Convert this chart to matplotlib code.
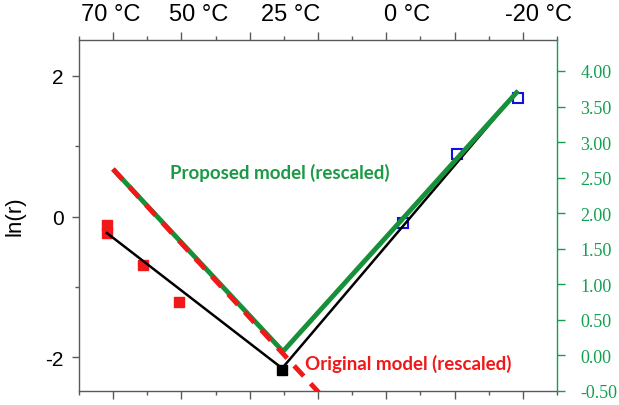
import matplotlib
matplotlib.use("Agg")
import matplotlib.pyplot as plt
from matplotlib.ticker import FixedLocator, FormatStrFormatter

# x positions are in units of the top/bottom tick spacing (0..14)
top_temps = [70, 50, 25, 0, -20]
top_temp_pos = [0.92, 3.49, 6.21, 9.61, 13.45]

# measured ln(r), high temperature side (red) and low temperature side (blue)
red_x = [0.82, 0.82, 1.875, 2.93]
red_y = [-0.12, -0.235, -0.683, -1.21]
mid_x = [5.95]
mid_y = [-2.18]
blue_x = [9.49, 11.07, 12.86]
blue_y = [-0.093, 0.89, 1.687]

# fitted piecewise line (left axis)
fit_x = [0.82, 5.95, 12.83]
fit_y = [-0.235, -2.157, 1.772]

# rescaled models (right axis)
proposed_x = [0.996, 5.975, 12.86]
proposed_r = [2.62, 0.056, 3.72]
original_x = [0.996, 7.06]
original_r = [2.62, -0.54]

axis_grey = "#5a5a5a"
green_axis = "#12a050"
green_line = "#17903a"
green_text = "#1b9a45"
red = "#f01818"

fig = plt.figure(figsize=(6.19, 4.06), dpi=100)
ax = fig.add_axes([0.1276, 0.0345, 0.7722, 0.8645])
ax2 = ax.twinx()

ax.set_xlim(0, 14)
ax.set_ylim(-2.48, 2.51)
ax2.set_ylim(-0.5, 4.435)

# data
ax.plot(red_x, red_y, "s", color=red, ms=7, mec=red, zorder=3)
ax.plot(blue_x, blue_y, "s", mfc="none", mec="#1010e0", mew=1.5, ms=7, zorder=3)
ax.plot(fit_x, fit_y, color="black", lw=1.8, zorder=4)
ax.plot(mid_x, mid_y, "s", color="black", ms=7, zorder=5)

ax2.plot(proposed_x, proposed_r, color=green_line, lw=3.5, zorder=5,
         solid_capstyle="butt")
ax2.plot(original_x, original_r, color=red, lw=3.5, zorder=6,
         dashes=(2.9, 2.1), dash_capstyle="butt")

ax.text(2.665, 0.633, "Proposed model (rescaled)", color=green_text,
        fontsize=13.5, fontweight="bold", family="Lato", va="center", ha="left")
ax.text(6.62, -2.085, "Original model (rescaled)", color=red,
        fontsize=13.5, fontweight="bold", family="Lato", va="center", ha="left")

# axes styling
for s in ["left", "top", "bottom"]:
    ax.spines[s].set_color(axis_grey)
    ax.spines[s].set_linewidth(1.0)
ax.spines["right"].set_visible(False)
for s in ["left", "top", "bottom"]:
    ax2.spines[s].set_visible(False)
ax2.spines["right"].set_color(green_axis)
ax2.spines["right"].set_linewidth(1.0)

ax.xaxis.set_major_locator(FixedLocator(range(1, 14, 2)))
ax.xaxis.set_minor_locator(FixedLocator(range(0, 15, 2)))
ax.tick_params(axis="x", which="both", top=True, bottom=True, labelbottom=False,
               labeltop=False, direction="out", color=axis_grey)
ax.tick_params(axis="x", which="major", length=6, width=1.0)
ax.tick_params(axis="x", which="minor", length=3, width=1.0)

ax.set_yticks([-2, 0, 2])
ax.yaxis.set_minor_locator(FixedLocator([-1, 1]))
ax.tick_params(axis="y", which="major", length=5, width=1.0, color=axis_grey,
               labelsize=15, pad=6)
ax.tick_params(axis="y", which="minor", length=3, width=1.0, color=axis_grey)
for t in ax.get_yticklabels():
    t.set_family("Liberation Sans")
ax.set_yticklabels(["-2", "0", "2"])
ax.set_ylabel("ln(r)", fontsize=16, family="Liberation Sans", labelpad=14)

top = ax.secondary_xaxis("top")
top.set_xticks(top_temp_pos)
top.set_xticklabels([f"{t} °C" for t in top_temps], fontsize=17,
                    family="Liberation Sans")
top.tick_params(length=0, pad=11)
top.spines["top"].set_visible(False)

r_ticks = [i * 0.5 for i in range(-1, 9)]
ax2.set_yticks(r_ticks)
ax2.yaxis.set_major_formatter(FormatStrFormatter("%.2f"))
ax2.tick_params(axis="y", length=6, width=1.0, color=green_axis,
                labelcolor=green_axis, labelsize=13, pad=11)
for t in ax2.get_yticklabels():
    t.set_family("Liberation Serif")

fig.savefig("out.png", dpi=100)
